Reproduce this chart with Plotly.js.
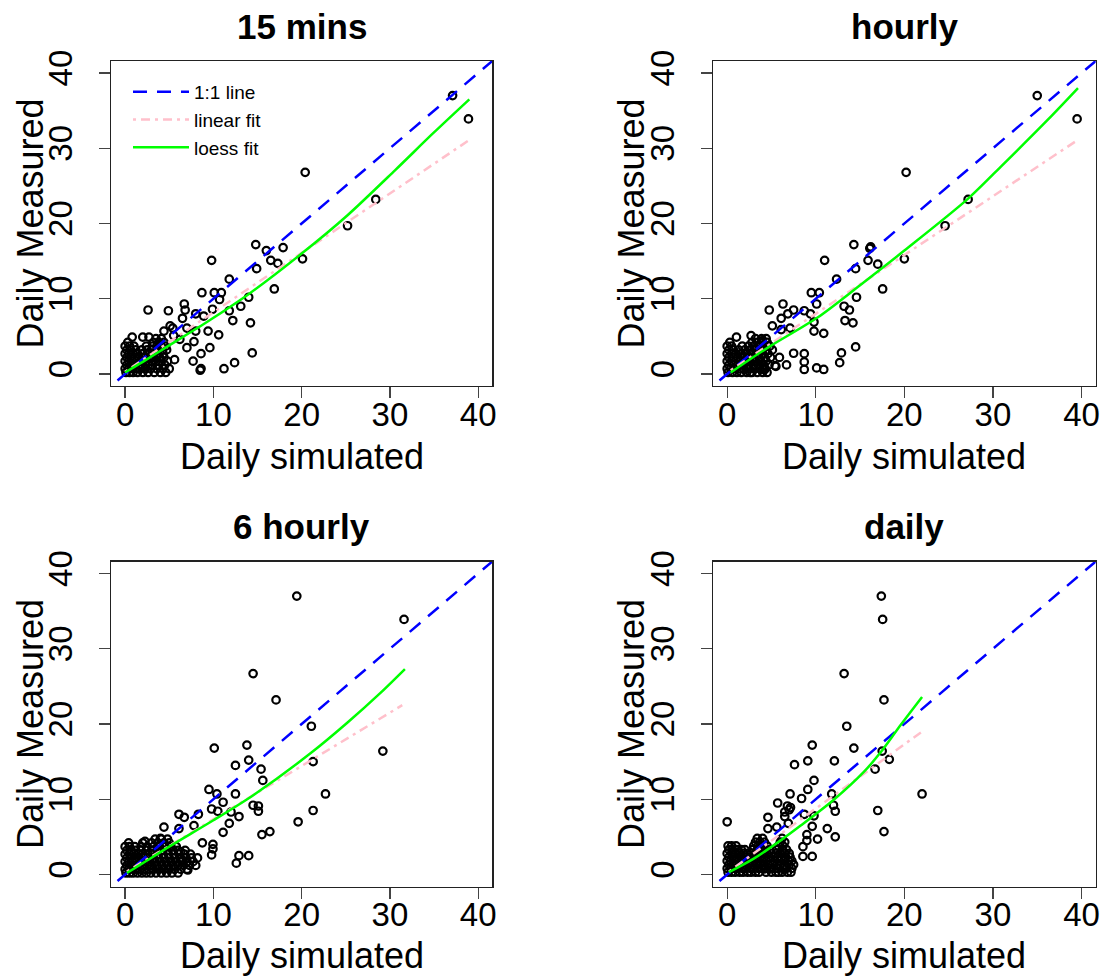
<!DOCTYPE html>
<html><head><meta charset="utf-8">
<script src="https://cdn.plot.ly/plotly-3.0.1.min.js"></script>
<style>html,body{margin:0;padding:0;background:#fff;} #chart{width:1105px;height:978px;}</style>
</head><body><div id="chart"></div>
<script>
// ---------- labels ----------
const panelTitles = ['15 mins', 'hourly', '6 hourly', 'daily'];
const xAxisTitle = 'Daily simulated';
const yAxisTitle = 'Daily Measured';
const tickValues = [0, 10, 20, 30, 40];
const tickLabels = ['0', '10', '20', '30', '40'];
const legendNames = ['1:1 line', 'linear fit', 'loess fit'];
const refLineX = [-5, 45];
const refLineY = [-5, 45];

// ---------- 15 mins ----------
const min15X = [37.1, 38.9, 20.4, 28.4, 25.2, 20.1, 14.8, 16.0, 17.9, 16.5, 17.3, 14.9, 9.8, 11.8, 16.9, 8.7, 10.1, 10.9, 14.0, 10.7, 13.1, 6.7, 6.8, 2.6, 4.9, 8.0, 8.9, 9.9, 6.5, 11.8, 12.2, 14.2, 5.1, 5.4, 7.0, 4.4, 8.0, 9.4, 10.6, 0.8, 2.0, 2.7, 7.8, 9.6, 7.0, 8.6, 7.7, 14.4, 5.6, 8.5, 12.4, 11.2, 8.6, 5.5, 6.2];
const min15Y = [37.0, 33.9, 26.8, 23.2, 19.7, 15.3, 17.2, 16.4, 16.8, 15.1, 14.7, 14.0, 15.1, 12.6, 11.3, 10.8, 10.8, 10.8, 10.2, 9.9, 9.0, 9.3, 8.5, 8.5, 8.4, 8.0, 7.7, 8.6, 7.4, 8.4, 7.1, 6.8, 6.4, 6.1, 6.1, 5.7, 5.7, 5.7, 5.2, 4.9, 4.9, 4.9, 4.3, 3.5, 3.5, 2.7, 1.7, 2.8, 1.9, 0.5, 1.5, 0.7, 0.7, 5.1, 4.6];
const min15RowY = [0.2, 0.7, 1.2, 1.7, 2.2, 2.7, 3.2, 3.7, 4.2, 4.7];
const min15RowX = [
  [0.1, 0.5, 0.9, 1.4, 2.0, 2.6, 3.3, 4.0, 4.6],
  [0.0, 0.4, 0.8, 1.2, 1.7, 2.3, 2.9, 3.6, 4.3, 5.0],
  [0.2, 0.6, 1.0, 1.5, 2.0, 2.6, 3.1, 3.8, 4.5],
  [0.0, 0.4, 0.8, 1.3, 1.8, 2.4, 3.0, 3.5, 4.1, 4.8],
  [0.2, 0.6, 1.1, 1.6, 2.2, 2.8, 3.3, 3.9, 4.4],
  [0.0, 0.4, 0.9, 1.4, 2.0, 2.6, 3.2, 3.7, 4.3],
  [0.2, 0.6, 1.2, 1.9, 2.5, 3.0, 3.6, 4.2, 4.7],
  [0.0, 0.5, 1.0, 2.4, 3.1, 3.6, 4.1, 4.6],
  [0.3, 3.2, 3.8, 4.4],
  [3.5, 4.1]
];
const min15LinX = [0.0, 39.0];
const min15LinY = [0.3, 31.1];
const min15LoessX = [0.0, 2.0, 5.0, 9.4, 14.1, 20.0, 25.2, 30.6, 34.9, 39.0];
const min15LoessY = [0.2, 1.6, 3.8, 7.0, 10.7, 16.0, 21.1, 27.1, 32.0, 36.5];

// ---------- hourly ----------
const hourX = [35.0, 39.5, 20.2, 27.2, 24.6, 20.0, 14.3, 16.1, 16.2, 15.9, 17.0, 14.5, 11.0, 12.35, 17.55, 9.5, 10.4, 14.6, 10.1, 13.2, 13.8, 6.3, 4.75, 7.5, 6.85, 8.7, 9.4, 6.1, 13.3, 14.2, 9.8, 5.1, 7.1, 6.1, 9.8, 10.9, 1.05, 2.7, 14.5, 12.9, 8.7, 8.7, 12.7, 8.7, 10.1, 10.9, 7.5, 6.7, 5.5, 4.1, 4.2, 2.6, 3.9, 5.9, 5.4];
const hourY = [37.0, 33.9, 26.8, 23.2, 19.7, 15.3, 17.2, 16.7, 16.9, 15.1, 14.6, 14.0, 15.1, 12.6, 11.3, 10.8, 10.8, 10.2, 9.3, 9.0, 8.5, 9.3, 8.5, 8.5, 8.0, 8.4, 8.0, 7.4, 7.1, 6.8, 6.9, 6.4, 6.1, 5.9, 5.7, 5.4, 4.9, 5.1, 3.6, 2.8, 2.7, 1.6, 1.5, 0.6, 0.8, 0.6, 2.75, 1.2, 1.0, 0.7, 0.6, 0.2, 4.4, 2.2, 1.1];
const hourRowY = [0.2, 0.7, 1.2, 1.7, 2.2, 2.7, 3.2, 3.7, 4.2, 4.7];
const hourRowX = [
  [0.1, 0.6, 1.1, 1.6, 2.2, 2.8, 3.4, 4.0, 4.5],
  [0.0, 0.4, 0.9, 1.4, 1.9, 2.5, 3.1, 3.7, 4.1, 4.3],
  [0.2, 0.7, 1.2, 1.7, 2.3, 2.9, 3.5, 4.1, 4.7],
  [0.0, 0.5, 1.0, 1.5, 2.0, 2.6, 3.2, 3.8, 4.4],
  [0.2, 0.7, 1.2, 1.8, 2.4, 3.0, 3.6, 4.2, 4.9],
  [0.0, 0.5, 1.0, 1.6, 2.2, 2.8, 3.4, 4.0, 4.6],
  [0.2, 0.7, 1.3, 2.0, 2.6, 3.2, 3.8, 4.4, 5.1],
  [0.0, 0.5, 1.7, 2.4, 3.0, 3.6, 4.2, 4.8],
  [0.3, 2.8, 3.4, 4.0, 4.5],
  [3.2, 3.9, 4.4]
];
const hourLinX = [0.4, 39.7];
const hourLinY = [0.5, 31.2];
const hourLoessX = [0.4, 2.0, 5.0, 10.2, 15.0, 20.0, 27.1, 31.1, 36.2, 39.6];
const hourLoessY = [0.2, 1.5, 3.8, 7.5, 11.8, 16.4, 23.2, 27.8, 33.8, 38.0];

// ---------- 6 hourly ----------
const hour6X = [19.45, 31.6, 14.5, 17.1, 21.1, 29.2, 10.1, 13.8, 14.0, 21.3, 12.5, 15.4, 15.6, 9.5, 10.4, 12.5, 22.7, 11.1, 14.5, 15.1, 15.1, 9.8, 10.5, 21.3, 6.1, 6.7, 8.3, 7.8, 12.9, 12.0, 11.8, 19.6, 4.4, 6.1, 11.1, 15.5, 16.4, 2.25, 9.95, 9.95, 8.75, 9.8, 12.9, 14.0, 12.6, 7.1, 6.5, 4.0, 6.3];
const hour6Y = [37.0, 33.9, 26.7, 23.2, 19.7, 16.4, 16.8, 17.2, 15.2, 15.0, 14.5, 14.0, 12.5, 11.3, 10.7, 10.7, 10.7, 9.6, 9.2, 9.1, 8.4, 8.7, 8.4, 8.5, 8.0, 7.6, 8.0, 6.5, 7.7, 8.3, 6.8, 7.0, 6.3, 6.1, 5.6, 5.3, 5.7, 4.4, 4.0, 3.4, 4.2, 2.6, 2.5, 2.5, 1.5, 0.6, 1.9, 4.8, 3.0];
const hour6RowY = [0.2, 0.7, 1.2, 1.7, 2.2, 2.7, 3.2, 3.7, 4.2, 4.7];
const hour6RowX = [
  [0.1, 0.5, 0.9, 1.4, 1.9, 2.4, 2.9, 3.5, 4.1, 4.7, 5.3, 6.0],
  [0.0, 0.4, 0.8, 1.2, 1.7, 2.2, 2.7, 3.2, 3.8, 4.4, 5.0, 5.6, 6.3, 7.0],
  [0.2, 0.6, 1.0, 1.5, 2.0, 2.5, 3.0, 3.6, 4.2, 4.8, 5.4, 6.0, 6.6, 7.3, 8.0],
  [0.0, 0.4, 0.8, 1.3, 1.8, 2.3, 2.8, 3.4, 4.0, 4.6, 5.2, 5.8, 6.4, 7.0, 7.7],
  [0.2, 0.6, 1.1, 1.6, 2.1, 2.6, 3.2, 3.8, 4.4, 5.0, 5.6, 6.2, 6.9, 7.5, 8.2],
  [0.0, 0.5, 1.0, 1.5, 2.0, 2.6, 3.1, 3.7, 4.3, 4.9, 5.5, 6.1, 6.7, 7.4],
  [0.2, 0.7, 1.2, 1.8, 2.4, 3.0, 3.6, 4.2, 4.8, 5.4, 6.0, 6.8],
  [0.0, 0.5, 1.1, 1.8, 2.5, 3.2, 3.9, 4.5, 5.2, 5.8],
  [0.4, 2.0, 3.0, 3.7, 4.4, 5.0],
  [3.4, 4.1, 4.8]
];
const hour6LinX = [0.2, 31.4];
const hour6LinY = [0.4, 22.5];
const hour6LoessX = [0.2, 2.0, 5.0, 10.0, 14.6, 21.0, 25.2, 28.9, 31.7];
const hour6LoessY = [0.2, 1.5, 3.7, 7.2, 10.6, 16.1, 20.2, 24.1, 27.3];

// ---------- daily ----------
const dailyX = [17.4, 17.55, 13.2, 17.7, 13.5, 9.6, 14.3, 7.6, 9.1, 12.1, 17.5, 18.3, 16.7, 9.8, 7.1, 9.1, 8.4, 5.7, 11.8, 22.0, 12.0, 12.2, 17.0, 7.15, 6.5, 6.5, 6.9, 4.6, 8.7, 9.8, 9.6, 11.3, 5.6, 4.6, 17.7, 12.2, 10.2, 9.0, 9.0, 0.0, 8.55, 9.6, 8.55, 5.8, 4.2, 7.0, 6.8];
const dailyY = [37.0, 33.9, 26.7, 23.2, 19.7, 17.2, 16.8, 14.6, 15.1, 15.1, 16.4, 15.3, 14.0, 12.5, 10.7, 11.3, 10.1, 9.5, 10.7, 10.7, 9.2, 8.4, 8.5, 8.9, 8.3, 7.7, 6.8, 7.6, 8.0, 7.8, 6.4, 6.1, 6.3, 6.1, 5.7, 5.0, 4.7, 5.3, 4.5, 7.0, 3.7, 2.4, 2.4, 0.3, 0.75, 8.6, 9.1];
const dailyRowY = [0.3, 0.8, 1.3, 1.8, 2.3, 2.8, 3.3, 3.8, 4.3, 4.8];
const dailyRowX = [
  [0.1, 0.5, 0.9, 1.4, 1.8, 2.3, 2.7, 3.2, 3.6, 4.4, 5.0, 5.5, 6.2, 6.8, 7.2],
  [0.0, 0.4, 0.8, 1.2, 1.7, 2.1, 2.6, 3.0, 3.5, 3.9, 4.3, 4.8, 5.3, 5.7, 6.3, 6.7, 7.3],
  [0.2, 0.6, 1.0, 1.5, 1.9, 2.4, 2.8, 3.3, 3.7, 4.1, 4.6, 5.1, 5.6, 6.0, 6.5, 7.0, 7.5],
  [0.0, 0.4, 0.9, 1.3, 1.8, 2.2, 2.6, 3.1, 3.5, 4.0, 4.4, 4.9, 5.4, 5.9, 6.4, 6.9, 7.3],
  [0.2, 0.6, 1.1, 1.5, 2.0, 2.5, 2.9, 3.4, 3.8, 4.2, 4.7, 5.2, 5.7, 6.1, 6.6, 7.1],
  [0.0, 0.5, 0.9, 1.4, 1.8, 2.3, 2.7, 3.2, 3.6, 4.1, 4.5, 5.0, 5.5, 6.0, 6.5, 7.0],
  [0.2, 0.6, 1.1, 1.6, 2.0, 2.9, 3.4, 3.8, 4.3, 4.8, 5.6, 6.2, 6.7],
  [0.1, 0.5, 1.0, 3.0, 3.5, 4.0, 4.5, 5.8, 6.3],
  [3.2, 3.7, 4.2, 6.0, 6.5],
  [3.4, 4.0, 6.2]
];
const dailyLinX = [0.2, 22.0];
const dailyLinY = [0.4, 19.0];
const dailyLoessX = [0.2, 3.0, 6.0, 8.3, 12.0, 15.4, 17.3, 19.6, 22.0];
const dailyLoessY = [0.3, 2.1, 4.5, 6.5, 9.9, 13.6, 16.2, 19.9, 23.6];

// ---------- build ----------
function withRows(xs, ys, rowY, rowX) {
  const ox = xs.slice(), oy = ys.slice();
  rowY.forEach((yv, i) => rowX[i].forEach(xv => { ox.push(xv); oy.push(yv); }));
  return [ox, oy];
}

const panels = [
  {pts: withRows(min15X, min15Y, min15RowY, min15RowX), lin: [min15LinX, min15LinY], loess: [min15LoessX, min15LoessY]},
  {pts: withRows(hourX, hourY, hourRowY, hourRowX), lin: [hourLinX, hourLinY], loess: [hourLoessX, hourLoessY]},
  {pts: withRows(hour6X, hour6Y, hour6RowY, hour6RowX), lin: [hour6LinX, hour6LinY], loess: [hour6LoessX, hour6LoessY]},
  {pts: withRows(dailyX, dailyY, dailyRowY, dailyRowX), lin: [dailyLinX, dailyLinY], loess: [dailyLoessX, dailyLoessY]}
];

const FONT = 'Liberation Sans, Arial, Helvetica, sans-serif';
const W = 1105, H = 978;
const colDom = [[111 / W, 492.3 / W], [713 / W, 1095.7 / W]];
const rowDom = [[(H - 386) / H, (H - 61) / H], [(H - 886.5) / H, (H - 561.5) / H]];

const traces = [];
panels.forEach((p, i) => {
  const sfx = i === 0 ? '' : String(i + 1);
  const xa = 'x' + sfx, ya = 'y' + sfx;
  traces.push({type: 'scatter', mode: 'markers', x: p.pts[0], y: p.pts[1], xaxis: xa, yaxis: ya,
    marker: {symbol: 'circle-open', size: 7.5, color: '#000', line: {width: 2.2, color: '#000'}},
    showlegend: false, hoverinfo: 'skip'});
  traces.push({type: 'scatter', mode: 'lines', x: refLineX, y: refLineY, xaxis: xa, yaxis: ya,
    name: legendNames[0], line: {color: '#0000FF', width: 2.5, dash: '14px,10px'}, showlegend: i === 0});
  traces.push({type: 'scatter', mode: 'lines', x: p.lin[0], y: p.lin[1], xaxis: xa, yaxis: ya,
    name: legendNames[1], line: {color: '#FFC0CB', width: 2.5, dash: '3px,5px,9px,5px'}, showlegend: i === 0});
  traces.push({type: 'scatter', mode: 'lines', x: p.loess[0], y: p.loess[1], xaxis: xa, yaxis: ya,
    name: legendNames[2], line: {color: '#00FF00', width: 2.5, shape: 'spline', smoothing: 0.8}, showlegend: i === 0});
});

function axis(domain, anchor, isY) {
  return {
    domain: domain, anchor: anchor, range: [-1.6, 41.6], autorange: false,
    tickmode: 'array', tickvals: tickValues, ticktext: tickLabels,
    ticks: 'outside', ticklen: 11, tickwidth: 1.3, tickcolor: '#444',
    showline: true, linecolor: '#222', linewidth: 1.3, mirror: true,
    showgrid: false, zeroline: false, fixedrange: true,
    tickangle: isY ? -90 : 0,
    ticklabelstandoff: isY ? 14 : -12,
    tickfont: {family: FONT, size: 33, color: '#000'}
  };
}

const layout = {
  width: W, height: H, margin: {l: 0, r: 0, t: 0, b: 0},
  paper_bgcolor: '#fff', plot_bgcolor: '#fff',
  font: {family: FONT, color: '#000'},
  xaxis: axis(colDom[0], 'y', false), yaxis: axis(rowDom[0], 'x', true),
  xaxis2: axis(colDom[1], 'y2', false), yaxis2: axis(rowDom[0], 'x2', true),
  xaxis3: axis(colDom[0], 'y3', false), yaxis3: axis(rowDom[1], 'x3', true),
  xaxis4: axis(colDom[1], 'y4', false), yaxis4: axis(rowDom[1], 'x4', true),
  showlegend: true,
  legend: {x: 128 / W, y: (H - 73) / H, xanchor: 'left', yanchor: 'top', bgcolor: 'rgba(0,0,0,0)',
    font: {family: FONT, size: 19, color: '#000'}, itemwidth: 56, tracegroupgap: 0},
  annotations: []
};

const colCenter = [(111 + 492.3) / 2 / W, (713 + 1095.7) / 2 / W];
const titleY = [1 - 26 / H, 1 - 526 / H];
const xTitleY = [1 - 456 / H, 1 - 955 / H];
const yTitleX = [30 / W, 631 / W];
const rowCenter = [1 - 223.5 / H, 1 - 724 / H];
panelTitles.forEach((t, i) => {
  const c = i % 2, r = Math.floor(i / 2);
  layout.annotations.push({text: '<b>' + t + '</b>', xref: 'paper', yref: 'paper', x: colCenter[c], y: titleY[r],
    xanchor: 'center', yanchor: 'middle', showarrow: false, font: {family: FONT, size: 35, color: '#000'}});
  layout.annotations.push({text: xAxisTitle, xref: 'paper', yref: 'paper', x: colCenter[c], y: xTitleY[r],
    xanchor: 'center', yanchor: 'middle', showarrow: false, font: {family: FONT, size: 36, color: '#000'}});
  layout.annotations.push({text: yAxisTitle, xref: 'paper', yref: 'paper', x: yTitleX[c], y: rowCenter[r],
    xanchor: 'center', yanchor: 'middle', textangle: -90, showarrow: false, font: {family: FONT, size: 36, color: '#000'}});
});

Plotly.newPlot('chart', traces, layout, {displayModeBar: false, staticPlot: true});
</script>
</body></html>
